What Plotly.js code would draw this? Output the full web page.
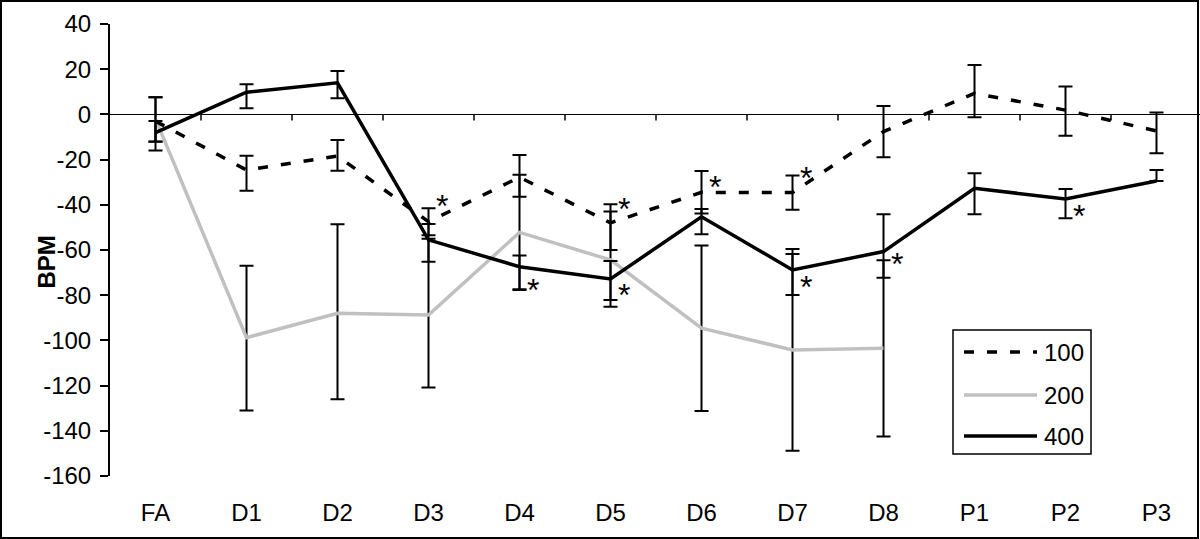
<!DOCTYPE html>
<html>
<head>
<meta charset="utf-8">
<script src="https://cdn.plot.ly/plotly-3.0.1.min.js"></script>
<style>
  html, body { margin: 0; padding: 0; background: #fff; }
  #wrap { position: relative; width: 1200px; height: 539px; }
  #chart { position: absolute; left: 0; top: 0; width: 1200px; height: 539px; }
  #frame { position: absolute; left: 0px; top: 0px; width: 1195px; height: 535px;
           border: 2px solid #000; pointer-events: none; }
</style>
</head>
<body>
<div id="wrap"><div id="chart"></div><div id="frame"></div></div>
<script>
// ---- data ----
const categories = ['FA','D1','D2','D3','D4','D5','D6','D7','D8','P1','P2','P3'];
const seriesNames = ['100', '200', '400'];

const s100      = [-3.0, -24.6, -18.4, -47.5, -27.8, -48.0, -34.5, -34.6, -7.6, 9.3, 1.9, -7.3];
const s100Plus  = [10.6, 6.3, 7.1, 6.0, 9.8, 8.2, 9.5, 7.6, 11.3, 12.6, 10.4, 8.1];
const s100Minus = [9.1, 9.2, 6.5, 6.0, 8.6, 12.0, 9.3, 7.6, 11.4, 10.6, 11.3, 9.9];

const cats200   = ['FA','D1','D2','D3','D4','D5','D6','D7','D8'];
const s200      = [-2.0, -98.8, -88.0, -88.8, -52.2, -64.4, -94.6, -104.2, -103.5];
const s200Plus  = [9.6, 31.8, 39.4, 33.8, 25.5, 21.4, 36.6, 44.6, 39.0];
const s200Minus = [10.0, 32.2, 38.0, 32.0, 25.5, 20.7, 36.6, 44.6, 39.0];

const s400      = [-8.1, 9.8, 14.0, -55.5, -67.4, -72.8, -45.3, -68.8, -60.7, -32.7, -37.4, -29.5];
const s400Plus  = [5.2, 3.5, 5.2, 7.0, 5.0, 7.9, 3.4, 7.0, 16.5, 6.7, 4.4, 4.9];
const s400Minus = [7.9, 7.1, 6.9, 9.7, 10.0, 9.3, 7.7, 11.1, 11.6, 11.5, 8.6, 0];

// significance markers: category and the height (BPM) at which the "*" is drawn
const starCats = ['D3', 'D4', 'D5', 'D5', 'D6', 'D7', 'D7', 'D8', 'P2'];
const starY    = [-37.4, -74.5, -38.6, -77.0, -29.0, -24.9, -73.3, -63.0, -42.0];

const yTicks = [40, 20, 0, -20, -40, -60, -80, -100, -120, -140, -160];
const yTickText = yTicks.map(v => String(v));

// ---- styling ----
const FONT = 'Liberation Sans, Arial, sans-serif';
const colors = {'100': '#000000', '200': '#c0c0c0', '400': '#000000'};
const dashes = {'100': '10px,13px', '200': 'solid', '400': 'solid'};

function errObj(plus, minus) {
  return {type: 'data', symmetric: false, array: plus, arrayminus: minus,
          color: '#000', thickness: 2, width: 7, visible: true};
}

const traces = [
  {x: cats200, y: s200, name: seriesNames[1], type: 'scatter', mode: 'lines',
   line: {color: colors['200'], width: 3.5}, error_y: errObj(s200Plus, s200Minus)},
  {x: categories, y: s100, name: seriesNames[0], type: 'scatter', mode: 'lines',
   line: {color: colors['100'], width: 3.5, dash: dashes['100']}, error_y: errObj(s100Plus, s100Minus)},
  {x: categories, y: s400, name: seriesNames[2], type: 'scatter', mode: 'lines',
   line: {color: colors['400'], width: 3.5}, error_y: errObj(s400Plus, s400Minus)}
];

// ---- layout geometry ----
const W = 1200, H = 539;
const M = {l: 110, r: 0, t: 24, b: 63};
const yRange = [-160, 40];
const xRange = [-0.5, 11.478];
const pw = W - M.l - M.r, ph = H - M.t - M.b;
const px2x = p => (p - M.l) / pw;
const px2y = p => (H - M.b - p) / ph;

const annotations = [];
const shapes = [];

// tick marks on the zero line at category boundaries
for (let i = 0; i < categories.length - 1; i++) {
  shapes.push({type: 'line', xref: 'x', yref: 'y', x0: i + 0.5, x1: i + 0.5,
    ysizemode: 'pixel', yanchor: 0, y0: 0, y1: -6, line: {color: '#000', width: 1.5}});
}

starCats.forEach((c, i) => {
  annotations.push({x: c, y: starY[i], xref: 'x', yref: 'y', text: '*', showarrow: false,
    font: {family: FONT, size: 32, color: '#000'}, xshift: 13, yshift: -7});
});
annotations.push({x: px2x(30), y: px2y(262), xref: 'paper', yref: 'paper', text: '<b>BPM</b>',
  textangle: -90, showarrow: false, font: {family: FONT, size: 24, color: '#000'}});

// manual legend (box, line samples, labels)
shapes.push({type: 'rect', xref: 'paper', yref: 'paper', x0: px2x(953), x1: px2x(1091),
  y0: px2y(330), y1: px2y(454), line: {color: '#000', width: 1.5}, fillcolor: 'rgba(0,0,0,0)'});
const legendRows = [352, 395, 436];
seriesNames.forEach((n, i) => {
  shapes.push({type: 'line', xref: 'paper', yref: 'paper', x0: px2x(964), x1: px2x(1037),
    y0: px2y(legendRows[i]), y1: px2y(legendRows[i]),
    line: {color: colors[n], width: 3.5, dash: dashes[n]}});
  annotations.push({x: px2x(1042), y: px2y(legendRows[i]), xref: 'paper', yref: 'paper',
    text: n, showarrow: false, xanchor: 'left', yanchor: 'middle',
    font: {family: FONT, size: 24, color: '#000'}});
});

const layout = {
  width: W, height: H,
  margin: M,
  paper_bgcolor: '#fff', plot_bgcolor: '#fff',
  showlegend: false,
  font: {family: FONT, size: 24, color: '#000'},
  xaxis: {type: 'category', categoryarray: categories, categoryorder: 'array',
    range: xRange, showgrid: false, zeroline: false, showline: false, ticks: '',
    tickfont: {family: FONT, size: 24, color: '#000'}, ticklabelstandoff: 20},
  yaxis: {range: yRange, tickmode: 'array', tickvals: yTicks, ticktext: yTickText,
    showgrid: false, zeroline: true, zerolinecolor: '#000', zerolinewidth: 1.5,
    showline: true, linecolor: '#000', linewidth: 2, ticks: 'outside', ticklen: 8, tickwidth: 2,
    tickcolor: '#000', tickfont: {family: FONT, size: 24, color: '#000'}, ticklabelstandoff: 4},
  annotations: annotations,
  shapes: shapes
};

Plotly.newPlot('chart', traces, layout, {displayModeBar: false, staticPlot: true});
</script>
</body>
</html>
